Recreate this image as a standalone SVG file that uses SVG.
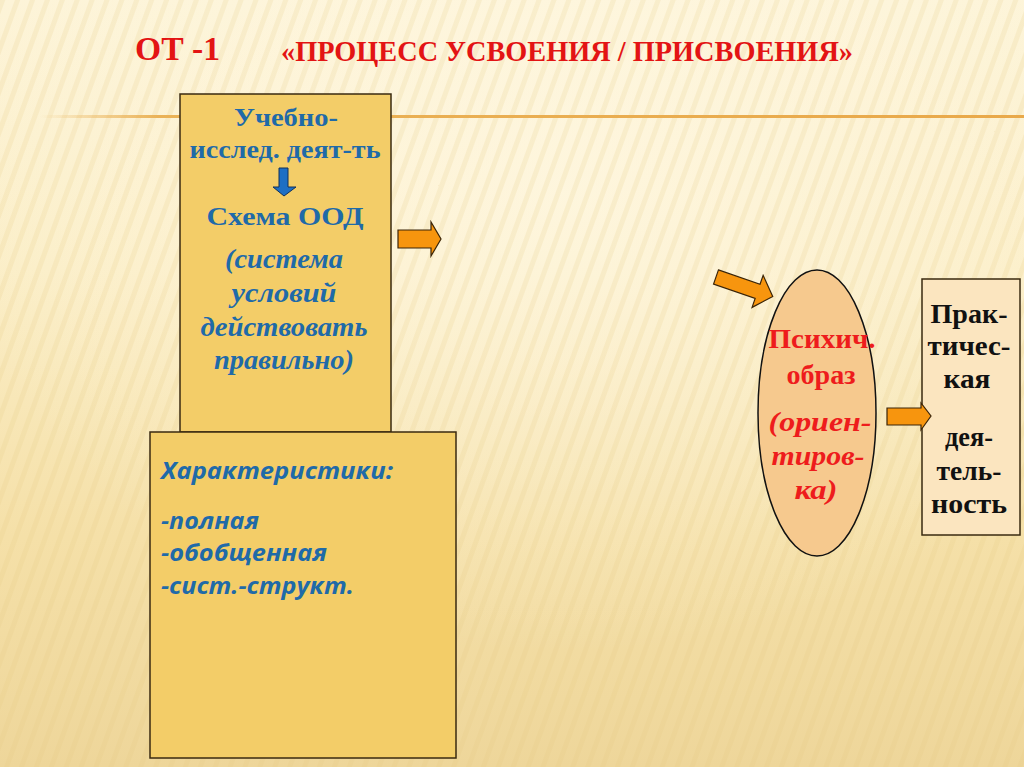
<svg xmlns="http://www.w3.org/2000/svg" width="1024" height="767" viewBox="0 0 1024 767">
  <defs>
    <linearGradient id="bg" x1="0" y1="0" x2="0" y2="1">
      <stop offset="0" stop-color="#fdf4d8"/>
      <stop offset="0.35" stop-color="#fbeec7"/>
      <stop offset="0.7" stop-color="#f5e0a8"/>
      <stop offset="1" stop-color="#eed69a"/>
    </linearGradient>
    <radialGradient id="glow" cx="0.55" cy="0.25" r="0.6">
      <stop offset="0" stop-color="#fff8e4" stop-opacity="0.7"/>
      <stop offset="1" stop-color="#fff8e4" stop-opacity="0"/>
    </radialGradient>
    <pattern id="stripes" width="14" height="14" patternUnits="userSpaceOnUse" patternTransform="rotate(20)">
      <rect x="0" y="0" width="5" height="14" fill="#e6c77e" fill-opacity="0.18"/>
    </pattern>
    <linearGradient id="hline" x1="0" y1="0" x2="1" y2="0">
      <stop offset="0" stop-color="#eab257" stop-opacity="0"/>
      <stop offset="0.12" stop-color="#eab257"/>
      <stop offset="1" stop-color="#e9a94a"/>
    </linearGradient>
    <style>
      .box{fill:#f3cd68;stroke:#3a2a10;stroke-width:1.5}
      .t1{font-family:"Liberation Serif",serif;font-weight:bold;fill:#1f6aa8;font-size:26px;text-anchor:middle}
      .t1i{font-family:"Liberation Serif",serif;font-weight:bold;font-style:italic;fill:#1f6aa8;font-size:27px;text-anchor:middle}
      .t2{font-family:"Open Sans","Liberation Sans",sans-serif;font-weight:bold;font-style:italic;fill:#1f6aa8;font-size:23px}
      .red{font-family:"Liberation Serif",serif;font-weight:bold;fill:#ee1c1c;font-size:27px;text-anchor:middle}
      .redi{font-family:"Liberation Serif",serif;font-weight:bold;font-style:italic;fill:#ee1c1c;font-size:27px;text-anchor:middle}
      .blk{font-family:"Liberation Serif",serif;font-weight:bold;fill:#111;font-size:27px;text-anchor:middle}
      .title{font-family:"Liberation Serif",serif;font-weight:bold;fill:#e31414}
      .arr{fill:#f7950e;stroke:#3a2408;stroke-width:1.2;stroke-linejoin:miter}
    </style>
  </defs>

  <rect width="1024" height="767" fill="url(#bg)"/>
  <rect width="1024" height="767" fill="url(#glow)"/>
  <rect width="1024" height="767" fill="url(#stripes)"/>
  <rect x="40" y="115" width="984" height="3" fill="url(#hline)"/>

  <g id="title">
    <text class="title" x="135" y="60" font-size="33" textLength="85" lengthAdjust="spacingAndGlyphs">ОТ -1</text>
    <text class="title" x="281" y="61" font-size="30" textLength="572" lengthAdjust="spacingAndGlyphs">«ПРОЦЕСС УСВОЕНИЯ / ПРИСВОЕНИЯ»</text>
  </g>

  <g id="node-ood">
    <rect class="box" x="180" y="94" width="211" height="338"/>
    <text class="t1" x="286" y="126" textLength="104" lengthAdjust="spacingAndGlyphs">Учебно-</text>
    <text class="t1" x="285" y="158" textLength="191" lengthAdjust="spacingAndGlyphs">исслед. деят-ть</text>
    <path d="M279,168 H288 V187 H296 L284,196 L273,187 H279 Z" fill="#1e6fc4" stroke="#10305a" stroke-width="1"/>
    <text class="t1" x="285" y="225" textLength="157" lengthAdjust="spacingAndGlyphs">Схема  ООД</text>
    <text class="t1i" x="284" y="268" textLength="118" lengthAdjust="spacingAndGlyphs">(система</text>
    <text class="t1i" x="284" y="302" textLength="105" lengthAdjust="spacingAndGlyphs">условий</text>
    <text class="t1i" x="284" y="336" textLength="167" lengthAdjust="spacingAndGlyphs">действовать</text>
    <text class="t1i" x="284" y="369" textLength="140" lengthAdjust="spacingAndGlyphs">правильно)</text>
  </g>

  <g id="node-char">
    <rect class="box" x="150" y="432" width="306" height="326"/>
    <text class="t2" x="161" y="479" textLength="232" lengthAdjust="spacingAndGlyphs">Характеристики:</text>
    <text class="t2" x="161" y="529" textLength="98" lengthAdjust="spacingAndGlyphs">-полная</text>
    <text class="t2" x="161" y="561" textLength="166" lengthAdjust="spacingAndGlyphs">-обобщенная</text>
    <text class="t2" x="161" y="594" textLength="193" lengthAdjust="spacingAndGlyphs">-сист.-структ.</text>
  </g>

  <g id="node-image">
    <ellipse cx="817" cy="413" rx="59" ry="143" fill="#f6c98e" stroke="#111" stroke-width="1.5"/>
    <text class="red" x="822" y="348" textLength="107" lengthAdjust="spacingAndGlyphs">Психич.</text>
    <text class="red" x="821" y="384" textLength="69" lengthAdjust="spacingAndGlyphs">образ</text>
    <text class="redi" x="820" y="431" textLength="103" lengthAdjust="spacingAndGlyphs">(ориен-</text>
    <text class="redi" x="818" y="465" textLength="93" lengthAdjust="spacingAndGlyphs">тиров-</text>
    <text class="redi" x="816" y="499" textLength="43" lengthAdjust="spacingAndGlyphs">ка)</text>
  </g>

  <g id="node-practice">
    <rect x="922" y="279" width="98" height="256" fill="#fbe5bf" stroke="#3a2a10" stroke-width="1.5"/>
    <text class="blk" x="969" y="323" textLength="77" lengthAdjust="spacingAndGlyphs">Прак-</text>
    <text class="blk" x="969" y="355" textLength="83" lengthAdjust="spacingAndGlyphs">тичес-</text>
    <text class="blk" x="967" y="388" textLength="47" lengthAdjust="spacingAndGlyphs">кая</text>
    <text class="blk" x="969" y="446" textLength="48" lengthAdjust="spacingAndGlyphs">дея-</text>
    <text class="blk" x="969" y="480" textLength="65" lengthAdjust="spacingAndGlyphs">тель-</text>
    <text class="blk" x="969" y="513" textLength="76" lengthAdjust="spacingAndGlyphs">ность</text>
  </g>

  <g id="connectors">
    <path class="arr" d="M398,230 H431 V222 L441,239 L431,256 V248 H398 Z"/>
    <path class="arr" transform="translate(716,277) rotate(19)" d="M0,-7.5 H44 V-17 L60,0 L44,17 V7.5 H0 Z"/>
    <path class="arr" d="M887,408 H921 V403 L931,416 L921,430 V425 H887 Z"/>
  </g>
</svg>
